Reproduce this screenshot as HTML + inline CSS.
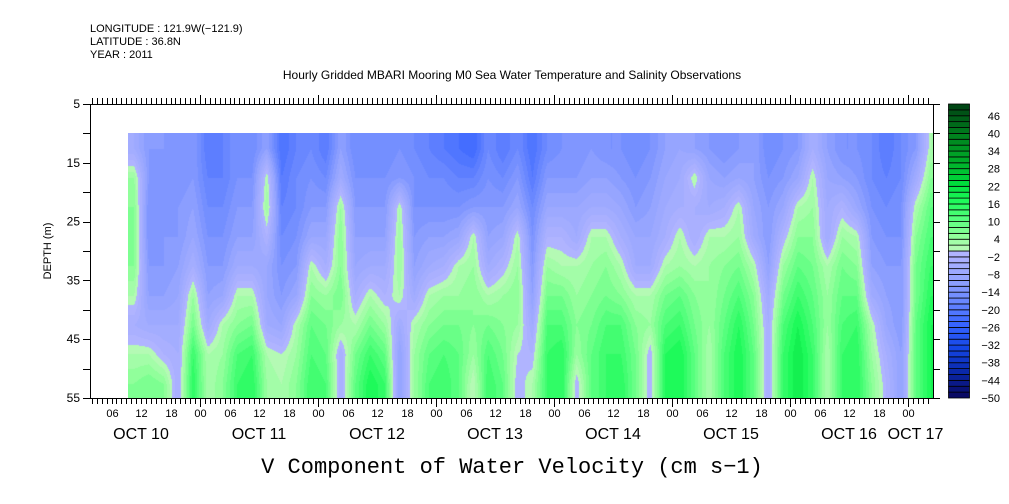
<!DOCTYPE html>
<html><head><meta charset="utf-8">
<style>
body{margin:0;background:#fff;}
#root{position:relative;width:1009px;height:504px;overflow:hidden;background:#fff;font-family:"Liberation Sans",sans-serif;color:#000;}
.t{position:absolute;white-space:nowrap;}
</style></head>
<body>
<div id="root">
<div class="t" style="left:90px;top:23px;font-size:11px;line-height:13px">LONGITUDE : 121.9W(−121.9)<br>LATITUDE : 36.8N<br>YEAR : 2011</div>
<div class="t" style="left:0;width:1024px;text-align:center;top:68px;font-size:12px">Hourly Gridded MBARI Mooring M0 Sea Water Temperature and Salinity Observations</div>
<div class="t" style="left:0;width:1024px;text-align:center;top:455px;font-size:22px;font-family:'Liberation Mono','Liberation Serif',monospace">V Component of Water Velocity (cm s−1)</div>
<canvas id="hm" width="805" height="265" style="position:absolute;left:128px;top:133px"></canvas>
<svg id="ax" width="1009" height="504" style="position:absolute;left:0;top:0"></svg>
</div>
<script>
const depthRows=[12.5,17.5,22.5,27.5,32.5,37.5,42.5,47.5,52.5];
const yTicks=[5,15,25,35,45,55];
const dayLabels=["OCT 10","OCT 11","OCT 12","OCT 13","OCT 14","OCT 15","OCT 16","OCT 17"];
const cbLabels=[-50,-44,-38,-32,-26,-20,-14,-8,-2,4,10,16,22,28,34,40,46];
const startHour=9; // data start Oct 10 09:00, 3-hourly columns
const values=[
[-6,4,6,6,6,2,-4,2,6],[-12,-12,-14,-14,-12,-10,-6,2,8],[-12,-14,-14,-12,-12,-10,-6,-2,6],[-14,-14,-12,-12,-10,-8,-6,-4,-4],
[-12,-12,-10,-8,-4,4,8,14,16],[-20,-18,-16,-14,-12,-10,-6,2,2],[-18,-18,-16,-14,-12,-8,2,4,6],[-14,-14,-12,-10,-6,2,6,12,14],
[-16,-14,-12,-10,-6,2,8,14,16],[-10,2,4,-2,-8,-8,-6,2,4],[-22,-20,-18,-16,-14,-12,-8,0,2],[-18,-16,-16,-14,-12,-8,2,4,6],
[-16,-14,-12,-8,2,6,10,12,14],[-20,-16,-12,-8,-4,4,8,10,12],[-10,-6,4,6,6,8,4,-4,-4],[-16,-14,-12,-10,-8,-4,2,8,10],
[-16,-14,-12,-10,-6,2,8,14,18],[-16,-14,-12,-10,-6,-2,4,10,14],[-14,-12,2,4,4,2,-6,-10,-10],[-16,-14,-14,-12,-10,-6,2,4,4],
[-18,-16,-14,-10,-6,2,6,10,12],[-20,-16,-14,-10,-4,4,8,12,14],[-22,-18,-14,-8,2,4,8,10,10],[-24,-18,-12,2,4,6,6,4,0],
[-16,-14,-12,-10,-6,2,8,12,14],[-20,-16,-12,-8,-2,4,6,8,10],[-16,-12,-8,2,4,6,4,0,-2],[-22,-20,-16,-14,-12,-10,-6,-2,2],
[-16,-12,-8,-2,4,8,12,14,14],[-14,-12,-8,-2,2,8,12,16,16],[-14,-12,-8,-6,2,4,6,4,-2],[-12,-10,-6,2,4,6,8,10,10],
[-14,-10,-6,2,6,8,12,14,14],[-14,-12,-8,-4,2,6,12,14,16],[-16,-14,-12,-8,-6,2,6,8,8],[-14,-12,-10,-8,-6,2,4,-2,-2],
[-10,-8,-6,-4,2,8,12,16,16],[-8,-6,-4,2,4,10,14,18,18],[-10,2,-4,-4,2,6,8,10,10],[-12,-8,-6,2,4,4,4,2,2],
[-14,-10,-4,2,6,8,10,12,12],[-12,-8,2,4,8,12,16,18,18],[-10,-10,-8,-6,2,6,8,10,10],[-16,-14,-12,-12,-10,-6,-4,-4,-4],
[-14,-12,-8,-2,4,8,12,14,14],[-12,-8,2,6,10,14,18,20,20],[-4,2,4,6,8,10,12,14,14],[-10,-8,-6,-6,2,4,4,2,2],
[-14,-10,-2,4,8,10,12,14,14],[-14,-12,-8,2,6,10,14,16,16],[-16,-16,-14,-12,-10,-6,2,4,6],[-20,-18,-16,-14,-12,-10,-8,-4,-2],
[-16,-16,-14,-14,-12,-12,-12,-10,-10],[-12,-6,2,6,8,8,10,10,10],[2,6,10,12,14,16,18,18,18]
];
const X0=82, DAYPX=118;
function xOfHour(h){return X0+h*DAYPX/24;}
function yOfDepth(d){return 104+(d-5)*5.88;}
const negStops=[[-1,176,180,255],[-9,150,165,255],[-17,105,135,255],[-25,55,100,255],[-33,20,70,230],[-41,10,40,170],[-49,10,10,100]];
const posStops=[[1,180,250,180],[5,145,255,155],[11,85,255,125],[17,30,250,90],[23,0,220,60],[31,0,170,40],[39,0,130,30],[49,0,70,20]];
function lerpStops(st,v){
  for(let i=0;i<st.length-1;i++){const a=st[i],b=st[i+1];
    const lo=Math.min(a[0],b[0]),hi=Math.max(a[0],b[0]);
    if(v>=lo&&v<=hi){const t=(v-a[0])/(b[0]-a[0]);return [a[1]+t*(b[1]-a[1]),a[2]+t*(b[2]-a[2]),a[3]+t*(b[3]-a[3])].map(Math.round);}}
  const e=Math.abs(v-st[0][0])<Math.abs(v-st[st.length-1][0])?st[0]:st[st.length-1];return [e[1],e[2],e[3]];
}
function colorOf(v){
  let b=Math.floor(v/2)*2+1; b=Math.max(-49,Math.min(49,b));
  return b<0?lerpStops(negStops,b):lerpStops(posStops,b);
}
(function(){
  const cv=document.getElementById('hm'),ctx=cv.getContext('2d');
  const W=cv.width,H=cv.height,img=ctx.createImageData(W,H);
  const nc=values.length,nr=depthRows.length;
  const cx=values.map((_,i)=>xOfHour(startHour+3*i+1.5)-128);
  const ry=depthRows.map(d=>yOfDepth(d)-133);
  for(let px=0;px<W;px++){
    let i=0;while(i<nc-2&&cx[i+1]<px)i++;
    let tx=(px-cx[i])/(cx[i+1]-cx[i]);tx=Math.max(0,Math.min(1,tx));
    for(let py=0;py<H;py++){
      let j=0;while(j<nr-2&&ry[j+1]<py)j++;
      let ty=(py-ry[j])/(ry[j+1]-ry[j]);ty=Math.max(0,Math.min(1,ty));
      const v=(values[i][j]*(1-tx)+values[i+1][j]*tx)*(1-ty)+(values[i][j+1]*(1-tx)+values[i+1][j+1]*tx)*ty;
      const c=colorOf(v),k=(py*W+px)*4;
      img.data[k]=c[0];img.data[k+1]=c[1];img.data[k+2]=c[2];img.data[k+3]=255;
    }
  }
  ctx.putImageData(img,0,0);
})();
(function(){
  const svg=document.getElementById('ax'),NS='http://www.w3.org/2000/svg';
  function el(t,a,p){const e=document.createElementNS(NS,t);for(const k in a)e.setAttribute(k,a[k]);(p||svg).appendChild(e);return e;}
  const L=90,R=933,T=104,B=398;
  const frame=el('rect',{x:L+.5,y:T+.5,width:R-L,height:B-T,fill:'none',stroke:'#000','stroke-width':1});
  
  
  for(let h=2;h<=173;h++){
    const x=Math.round(xOfHour(h))+.5;if(x<L||x>R)continue;
    const big=h%24===0;
    el('line',{x1:x,x2:x,y1:B,y2:B+(big?9:6),stroke:'#000'});
    el('line',{x1:x,x2:x,y1:T,y2:T-(big?9:6),stroke:'#000'});
    if(h%6===0){
      const tx=el('text',{x:x,y:417,'text-anchor':'middle','font-size':11,'font-family':'Liberation Sans, sans-serif'});
      tx.textContent=String(h%24).padStart(2,'0');
      
      
    }
  }
  dayLabels.forEach((d,i)=>{
    let x=xOfHour(i*24+12);if(i===dayLabels.length-1)x=(xOfHour(i*24)+R)/2-5;
    const tx=el('text',{x:x,y:439,'text-anchor':'middle','font-size':16,'font-family':'Liberation Sans, sans-serif'});
    tx.textContent=d;
    
    
  });
  for(let d=5;d<=55;d+=5){
    const y=Math.round(yOfDepth(d))+.5;
    el('line',{x1:L-7,x2:L,y1:y,y2:y,stroke:'#000'});
    el('line',{x1:R,x2:R+7,y1:y,y2:y,stroke:'#000'});
  }
  yTicks.forEach(d=>{
    const tx=el('text',{x:80,y:yOfDepth(d)+4,'text-anchor':'end','font-size':12,'font-family':'Liberation Sans, sans-serif'});
    tx.textContent=d;
    
    
  });
  const yt=el('text',{x:0,y:0,transform:'translate(51,251) rotate(-90)','text-anchor':'middle','font-size':11,'font-family':'Liberation Sans, sans-serif'});
  yt.textContent='DEPTH (m)';
  
  
  const cb=el('g',{});
  
  
  const bh=(B-T)/50;
  for(let b=0;b<50;b++){
    const v=-50+b*2+1,c=colorOf(v);
    el('rect',{x:948.5,y:B-(b+1)*bh,width:21,height:bh,fill:`rgb(${c[0]},${c[1]},${c[2]})`,stroke:'#000','stroke-width':0.8},cb);
  }
  cbLabels.forEach(v=>{
    const y=B-(v+50)/2*bh;
    const tx=el('text',{x:1000,y:y+4,'text-anchor':'end','font-size':11,'font-family':'Liberation Sans, sans-serif'},cb);
    tx.textContent=v<0?'−'+(-v):String(v);
    
    
  });
})();
</script>
</body></html>
